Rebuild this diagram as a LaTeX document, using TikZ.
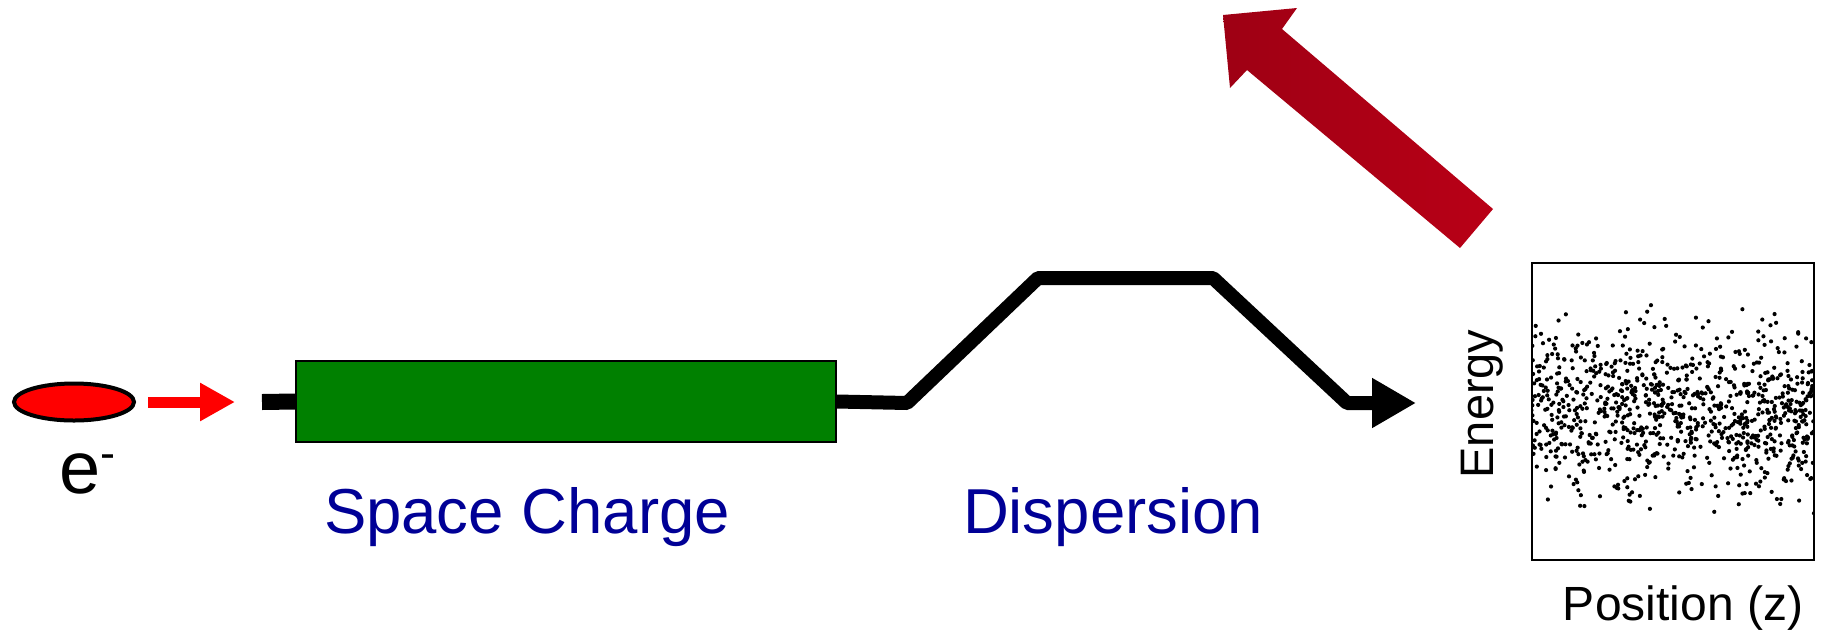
\documentclass[tikz,border=0pt]{standalone}
\usepackage{fontspec}
\setmainfont{Liberation Sans}
\usetikzlibrary{shapes.geometric,arrows.meta}
\definecolor{labelblue}{RGB}{0,0,150}
\definecolor{boxgreen}{RGB}{0,128,0}
\definecolor{arrowdark}{RGB}{158,0,20}
\definecolor{arrowlight}{RGB}{185,0,22}
\tikzset{
  bigfont/.style={font=\fontsize{63.5}{70}\selectfont},
  plotfont/.style={font=\fontsize{48}{54}\selectfont},
  beamline/.style={line width=14pt, line join=bevel},
  dot/.style={fill=black}
}
\begin{document}
\begin{tikzpicture}[x=1pt,y=-1pt]
\useasboundingbox (0,0) rectangle (1823,630);
% electron
\node[draw, ellipse, fill=red, line width=4pt, minimum width=120pt, minimum height=37pt, inner sep=0pt] (el) at (74,402) {};
\node[anchor=base west, inner sep=0pt, font=\fontsize{74}{80}\selectfont] (elabel) at (59,493) {e\raisebox{25pt}{\fontsize{45}{45}\selectfont -}};
% small red arrow
\coordinate (ra1) at (148,402);
\coordinate (ra2) at (235,402);
\draw[red, line width=11pt, -{Triangle[length=35pt,width=36pt]}] (ra1) -- (ra2);
% space charge box
\coordinate (stub) at (262,402);
\node[draw, fill=boxgreen, line width=2pt, minimum width=540pt, minimum height=81pt, inner sep=0pt] (sc) at (566,401.5) {};
\draw[line width=16pt] (stub) -- (sc.west);
% dispersion chicane
\coordinate (d1) at (907,403);
\coordinate (d2) at (1038,278);
\coordinate (d3) at (1213,278);
\coordinate (d4) at (1347,403);
\coordinate (d5) at (1416,403);
\draw[beamline, -{Triangle[length=44pt,width=47pt]}] (sc.east) -- (d1) -- (d2) -- (d3) -- (d4) -- (d5);
% labels
\node[bigfont, text=labelblue, anchor=base, inner sep=0pt] (sclabel) at (527,533) {Space Charge};
\node[bigfont, text=labelblue, anchor=base, inner sep=0pt] (dlabel) at (1113,533) {Dispersion};
% big red arrow
\shade[left color=arrowdark, right color=arrowlight]
  (1493,209) -- (1282,29) -- (1297,8) -- (1223,15) -- (1230,88) -- (1247,70) -- (1460,248) -- cycle;
% phase space plot
\node[draw, line width=1.5pt, minimum width=282pt, minimum height=297pt, inner sep=0pt] (plot) at (1673,411.5) {};
\begin{scope}
\clip (1532,263) rectangle (1814,560);
\pgfmathsetseed{4711}
\foreach \i in {1,...,1000}{
  \pgfmathsetmacro\px{1528+290*rnd}
  \pgfmathsetmacro\py{412+40*(rand+rand+rand)}
  \fill[dot] (\px,\py) circle[radius=2.1];
}
\end{scope}
\node[anchor=base, rotate=90, inner sep=0pt, font=\fontsize{47}{52}\selectfont] (ylabel) at (1493,404) {Energy};
\node[plotfont, anchor=base, inner sep=0pt] (xlabel) at (1683,620) {Position (z)};
\end{tikzpicture}
\end{document}
